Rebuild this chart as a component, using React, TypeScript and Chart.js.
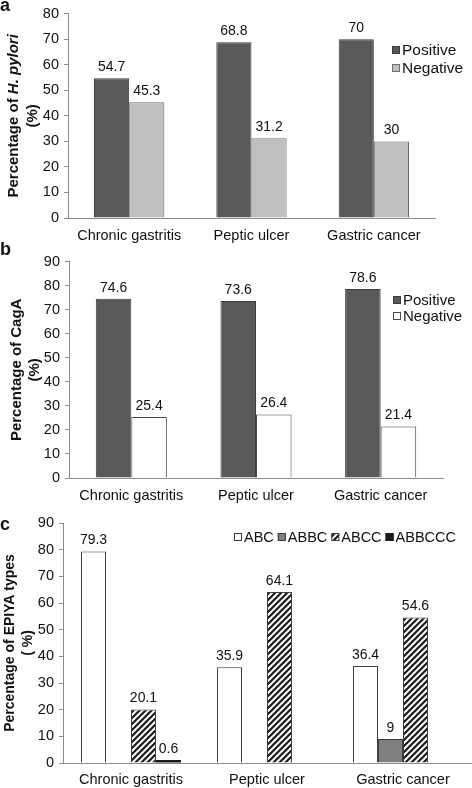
import React, { useEffect, useRef } from 'react'
import { Chart, registerables } from 'chart.js'

Chart.register(...registerables)

const FONT = "'Liberation Sans', Arial, Helvetica, sans-serif"

const categories = ['Chronic gastritis', 'Peptic ulcer', 'Gastric cancer']

// panel a - H. pylori
const hpPositive = [54.7, 68.8, 70]
const hpNegative = [45.3, 31.2, 30]

// panel b - CagA
const cagaPositive = [74.6, 73.6, 78.6]
const cagaNegative = [25.4, 26.4, 21.4]

// panel c - EPIYA types
const epiyaAbc = [79.3, 35.9, 36.4]
const epiyaAbbc = [null, null, 9]
const epiyaAbcc = [20.1, 64.1, 54.6]
const epiyaAbbccc = [0.6, null, null]

const yMaxA = 80
const yMaxB = 90
const yMaxC = 90
const yStep = 10

function makeHatch() {
  const c = document.createElement('canvas')
  c.width = 6
  c.height = 6
  const g = c.getContext('2d')
  g.fillStyle = '#ffffff'
  g.fillRect(0, 0, 6, 6)
  g.strokeStyle = '#1a1a1a'
  g.lineWidth = 2.2
  g.beginPath()
  g.moveTo(-1, 7)
  g.lineTo(7, -1)
  g.moveTo(-4, 4)
  g.lineTo(4, -4)
  g.moveTo(2, 10)
  g.lineTo(10, 2)
  g.stroke()
  const ctx = document.createElement('canvas').getContext('2d')
  return ctx.createPattern(c, 'repeat')
}

const valueLabels = {
  id: 'valueLabels',
  afterDatasetsDraw(chart) {
    const ctx = chart.ctx
    ctx.save()
    ctx.font = `14px ${FONT}`
    ctx.fillStyle = '#111'
    ctx.textAlign = 'center'
    ctx.textBaseline = 'bottom'
    chart.data.datasets.forEach((ds, i) => {
      const meta = chart.getDatasetMeta(i)
      meta.data.forEach((bar, j) => {
        const v = ds.data[j]
        if (v == null) return
        ctx.fillText(String(v), bar.x, bar.y - 4)
      })
    })
    ctx.restore()
  }
}

// rotated y title with mixed italic parts
function makeYTitle(lines, xs, size) {
  return {
    id: 'yTitle',
    afterDraw(chart) {
      const ctx = chart.ctx
      const cy = (chart.chartArea.top + chart.chartArea.bottom) / 2
      ctx.save()
      ctx.fillStyle = '#111'
      ctx.textBaseline = 'middle'
      ctx.textAlign = 'left'
      lines.forEach((parts, li) => {
        let total = 0
        parts.forEach((p) => {
          ctx.font = `${p.italic ? 'italic ' : ''}bold ${size}px ${FONT}`
          total += ctx.measureText(p.text).width
        })
        ctx.save()
        ctx.translate(xs[li], cy)
        ctx.rotate(-Math.PI / 2)
        let x = -total / 2
        parts.forEach((p) => {
          ctx.font = `${p.italic ? 'italic ' : ''}bold ${size}px ${FONT}`
          ctx.fillText(p.text, x, 0)
          x += ctx.measureText(p.text).width
        })
        ctx.restore()
      })
      ctx.restore()
    }
  }
}

function makeLegend(items, pos) {
  return {
    id: 'floatLegend',
    afterDraw(chart) {
      const ctx = chart.ctx
      ctx.save()
      ctx.font = `${pos.size}px ${FONT}`
      ctx.textBaseline = 'middle'
      ctx.textAlign = 'left'
      let x = pos.x
      let y = pos.y
      items.forEach((it) => {
        ctx.fillStyle = it.fill
        ctx.fillRect(x, y - 4, 8, 8)
        ctx.strokeStyle = it.border
        ctx.lineWidth = 1
        ctx.strokeRect(x + 0.5, y - 3.5, 7, 7)
        ctx.fillStyle = '#111'
        ctx.fillText(it.label, x + 10, y + 0.5)
        if (pos.horizontal) {
          x += 10 + ctx.measureText(it.label).width + 4
        } else {
          y += pos.dy
        }
      })
      ctx.restore()
    }
  }
}

function baseOptions(cfg) {
  return {
    responsive: false,
    animation: false,
    layout: { padding: { left: 0, right: cfg.right, top: cfg.top, bottom: 0 } },
    plugins: { legend: { display: false }, tooltip: { enabled: false } },
    scales: {
      x: {
        grid: { display: false, drawTicks: false },
        border: { display: true, color: '#8c8c8c', width: 1 },
        ticks: { color: '#111', font: { family: FONT, size: 14.5 }, padding: cfg.xPad, maxRotation: 0 },
        afterFit: (s) => { s.height = cfg.xHeight }
      },
      y: {
        min: 0,
        max: cfg.yMax,
        grid: { display: true, drawOnChartArea: false, drawTicks: true, tickLength: 4, color: '#8c8c8c' },
        border: { display: true, color: '#8c8c8c', width: 1 },
        ticks: { stepSize: yStep, color: '#111', font: { family: FONT, size: 14.5 }, padding: 5 },
        afterFit: (s) => { s.width = cfg.left }
      }
    }
  }
}

function Panel({ top, height, build }) {
  const chartRef = useRef(null)
  const chartInstanceRef = useRef(null)

  useEffect(() => {
    const ctx = chartRef.current.getContext('2d')
    chartInstanceRef.current = new Chart(ctx, build())
    return () => {
      chartInstanceRef.current.destroy()
    }
  }, [])

  return (
    <div style={{ position: 'absolute', left: 0, top, width: 472, height }}>
      <canvas ref={chartRef} width={472} height={height} style={{ width: 472, height }}></canvas>
    </div>
  )
}

const darkFill = '#595959'
const darkBorder = '#3c3c3c'

function buildA() {
  return {
    type: 'bar',
    data: {
      labels: categories,
      datasets: [
        { label: 'Positive', data: hpPositive, backgroundColor: darkFill, borderColor: darkBorder, borderWidth: 1, categoryPercentage: 0.575, barPercentage: 1 },
        { label: 'Negative', data: hpNegative, backgroundColor: '#bfbfbf', borderColor: '#6e6e6e', borderWidth: 1, categoryPercentage: 0.575, barPercentage: 1 }
      ]
    },
    options: baseOptions({ left: 68, right: 37, top: 11, xHeight: 30, xPad: 9, yMax: yMaxA }),
    plugins: [
      valueLabels,
      makeYTitle([[{ text: 'Percentage of ' }, { text: 'H. pylori', italic: true }], [{ text: '(%)' }]], [14, 33], 15),
      makeLegend([
        { label: 'Positive', fill: darkFill, border: darkBorder },
        { label: 'Negative', fill: '#bfbfbf', border: '#6e6e6e' }
      ], { x: 392, y: 50, dy: 18, size: 15.5 })
    ]
  }
}

function buildB() {
  return {
    type: 'bar',
    data: {
      labels: categories,
      datasets: [
        { label: 'Positive', data: cagaPositive, backgroundColor: darkFill, borderColor: darkBorder, borderWidth: 1, categoryPercentage: 0.57, barPercentage: 1 },
        { label: 'Negative', data: cagaNegative, backgroundColor: '#ffffff', borderColor: '#4a4a4a', borderWidth: 1, categoryPercentage: 0.57, barPercentage: 1 }
      ]
    },
    options: baseOptions({ left: 69, right: 29, top: 12.5, xHeight: 30, xPad: 9, yMax: yMaxB }),
    plugins: [
      valueLabels,
      makeYTitle([[{ text: 'Percentage of CagA' }], [{ text: '(%)' }]], [17, 35], 15),
      makeLegend([
        { label: 'Positive', fill: darkFill, border: darkBorder },
        { label: 'Negative', fill: '#ffffff', border: '#4a4a4a' }
      ], { x: 393, y: 52, dy: 16, size: 15 })
    ]
  }
}

function buildC() {
  const hatch = makeHatch()
  return {
    type: 'bar',
    data: {
      labels: categories,
      datasets: [
        { label: 'ABC', data: epiyaAbc, backgroundColor: '#ffffff', borderColor: '#3c3c3c', borderWidth: 1, categoryPercentage: 0.735, barPercentage: 1 },
        { label: 'ABBC', data: epiyaAbbc, backgroundColor: '#808080', borderColor: '#3c3c3c', borderWidth: 1, categoryPercentage: 0.735, barPercentage: 1 },
        { label: 'ABCC', data: epiyaAbcc, backgroundColor: hatch, borderColor: '#3c3c3c', borderWidth: 1, categoryPercentage: 0.735, barPercentage: 1 },
        { label: 'ABBCCC', data: epiyaAbbccc, backgroundColor: '#1a1a1a', borderColor: '#1a1a1a', borderWidth: 0, minBarLength: 3, categoryPercentage: 0.735, barPercentage: 1 }
      ]
    },
    options: baseOptions({ left: 63, right: 1, top: 15, xHeight: 25, xPad: 8, yMax: yMaxC }),
    plugins: [
      valueLabels,
      makeYTitle([[{ text: 'Percentage of EPIYA types' }], [{ text: '( %)' }]], [10, 28], 14),
      makeLegend([
        { label: 'ABC', fill: '#ffffff', border: '#3c3c3c' },
        { label: 'ABBC', fill: '#808080', border: '#3c3c3c' },
        { label: 'ABCC', fill: hatch, border: '#3c3c3c' },
        { label: 'ABBCCC', fill: '#1a1a1a', border: '#1a1a1a' }
      ], { x: 234, y: 29, horizontal: true, size: 14.5 })
    ]
  }
}

const letterStyle = {
  position: 'absolute',
  left: 0,
  fontFamily: FONT,
  fontWeight: 'bold',
  fontSize: 18,
  lineHeight: '18px',
  color: '#111'
} as React.CSSProperties

const App = () => {
  return (
    <div style={{ position: 'absolute', left: 0, top: 0, width: 472, height: 788, background: '#fff', overflow: 'hidden' }}>
      <Panel top={0} height={248} build={buildA} />
      <Panel top={248} height={260} build={buildB} />
      <Panel top={508} height={280} build={buildC} />
      <div style={{ ...letterStyle, top: -4 }}>a</div>
      <div style={{ ...letterStyle, top: 240 }}>b</div>
      <div style={{ ...letterStyle, top: 515 }}>c</div>
    </div>
  )
}

export default App
